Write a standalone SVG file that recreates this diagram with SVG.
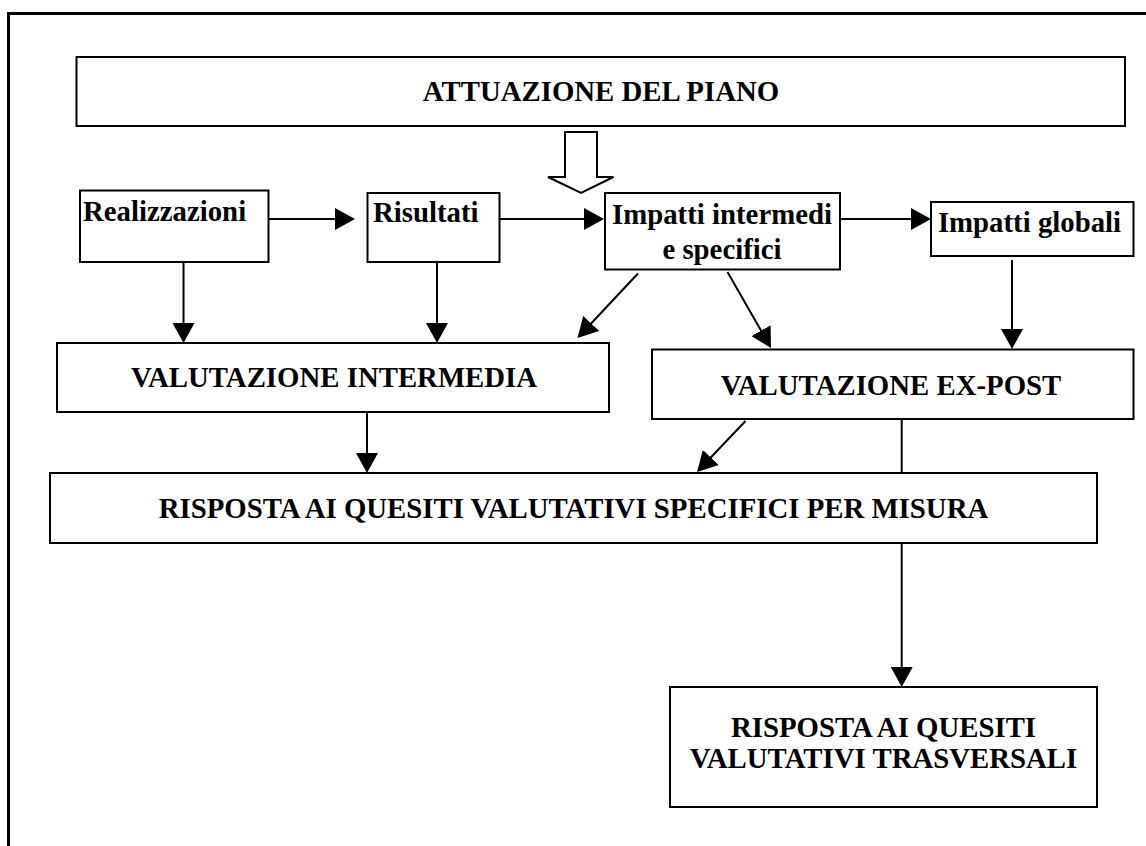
<svg xmlns="http://www.w3.org/2000/svg" width="1146" height="846" viewBox="0 0 1146 846">
<style>
.box{fill:#fff;stroke:#000;stroke-width:2}
.t{font-family:"Liberation Serif","Times New Roman",serif;font-weight:bold;font-size:28.8px;fill:#000}
.c{text-anchor:middle}
.ln{stroke:#000;stroke-width:2;fill:none}
.ar{stroke:#000;stroke-width:2;fill:none;marker-end:url(#ah)}
</style>
<defs>
<marker id="ah" markerUnits="userSpaceOnUse" markerWidth="20" markerHeight="22" refX="17" refY="11" orient="auto">
<path d="M0,0 L20,11 L0,22 z" fill="#000"/>
</marker>
</defs>
<rect width="1146" height="846" fill="#fff"/>
<path d="M8.5,846 L8.5,13.5 L1146,13.5" fill="none" stroke="#000" stroke-width="3"/>

<g id="connectors">
<line class="ar" x1="267" y1="219" x2="352" y2="219"/>
<line class="ar" x1="499" y1="219" x2="601" y2="219"/>
<line class="ar" x1="840" y1="219" x2="928" y2="219"/>
<line class="ar" x1="183.5" y1="262" x2="183.5" y2="340"/>
<line class="ar" x1="437" y1="262" x2="437" y2="340"/>
<line class="ar" x1="638" y1="273.5" x2="579.6" y2="335.8"/>
<line class="ar" x1="727.5" y1="272" x2="769.5" y2="345.4"/>
<line class="ar" x1="1012" y1="260" x2="1012" y2="346"/>
<line class="ar" x1="367" y1="412" x2="367" y2="470"/>
<line class="ar" x1="745.5" y1="421" x2="699.1" y2="469.8"/>
<line class="ln" x1="901.7" y1="419" x2="901.7" y2="473"/>
<line class="ar" x1="901.7" y1="543" x2="901.7" y2="684"/>
<polygon id="hollow-arrow" points="565,132 597,132 597,177 613.5,177 581,193 548,177 565,177" fill="#fff" stroke="#000" stroke-width="2"/>
</g>

<g id="attuazione">
<rect class="box" x="76.5" y="57" width="1048.5" height="69"/>
<text class="t c" x="601" y="101">ATTUAZIONE DEL PIANO</text>
</g>
<g id="realizzazioni">
<rect class="box" x="80" y="190.5" width="188.5" height="71.5"/>
<text class="t" x="83" y="221">Realizzazioni</text>
</g>
<g id="risultati">
<rect class="box" x="367.5" y="193" width="132" height="69"/>
<text class="t" x="373" y="222">Risultati</text>
</g>
<g id="impatti-intermedi">
<rect class="box" x="605" y="193" width="235" height="76.5"/>
<text class="t c" x="722" y="224">Impatti intermedi</text>
<text class="t c" x="722" y="259">e specifici</text>
</g>
<g id="impatti-globali">
<rect class="box" x="931" y="202" width="202.5" height="54"/>
<text class="t c" x="1029.5" y="232">Impatti globali</text>
</g>
<g id="valutazione-intermedia">
<rect class="box" x="57" y="343" width="552" height="69"/>
<text class="t c" x="334" y="387">VALUTAZIONE INTERMEDIA</text>
</g>
<g id="valutazione-ex-post">
<rect class="box" x="652" y="349.5" width="481.5" height="69.5"/>
<text class="t c" x="891" y="395">VALUTAZIONE EX-POST</text>
</g>
<g id="risposta-specifici">
<rect class="box" x="50" y="473" width="1047" height="70"/>
<text class="t c" x="573.5" y="518">RISPOSTA AI QUESITI VALUTATIVI SPECIFICI PER MISURA</text>
</g>
<g id="risposta-trasversali">
<rect class="box" x="670" y="687" width="427" height="120"/>
<text class="t c" x="883.5" y="737">RISPOSTA AI QUESITI</text>
<text class="t c" x="883.5" y="768">VALUTATIVI TRASVERSALI</text>
</g>
</svg>
